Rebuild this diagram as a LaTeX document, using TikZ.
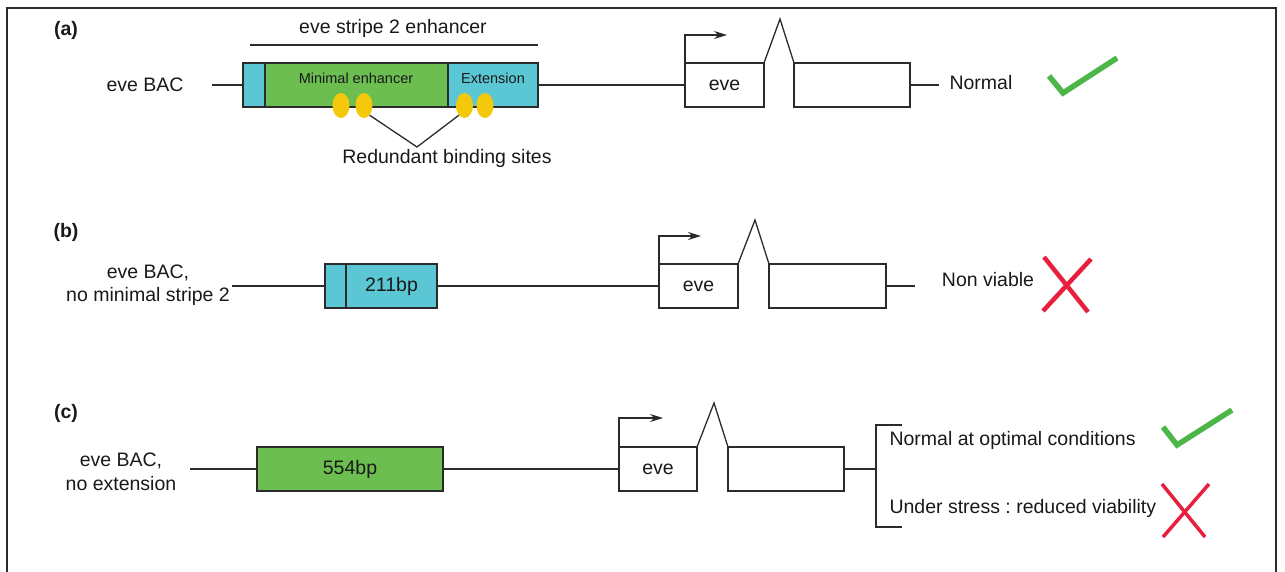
\documentclass[tikz,border=0pt]{standalone}
\usepackage{fontspec}
\setmainfont{Liberation Sans}
\usetikzlibrary{arrows.meta,shapes.geometric}
\frenchspacing

\definecolor{ink}{HTML}{2B2B2B}
\definecolor{cyanbox}{HTML}{5CC7D4}
\definecolor{greenbox}{HTML}{6CBE50}
\definecolor{siteyellow}{HTML}{F4C90C}
\definecolor{okgreen}{HTML}{4CB648}
\definecolor{badred}{HTML}{E8203E}

\tikzset{
  every node/.style={text=black!90, font=\fontsize{19.5}{23.5}\selectfont},
  wire/.style={draw=ink, line width=1.3pt},
  segment/.style={draw=ink, line width=1.4pt, minimum height=44pt, inner sep=0pt, outer sep=0pt},
  exon/.style={segment, fill=white},
  cyanseg/.style={segment, fill=cyanbox},
  greenseg/.style={segment, fill=greenbox},
  site/.style={ellipse, fill=siteyellow, minimum width=17pt, minimum height=25pt, inner sep=0pt},
  small/.style={font=\fontsize{14.5}{17}\selectfont},
  panel/.style={font=\fontsize{19.5}{23.5}\selectfont\bfseries},
  tss/.style={wire, -{Stealth[length=13pt, width=8pt]}},
  tick/.style={draw=okgreen, line width=5.5pt},
  cross/.style={draw=badred, line width=4.5pt}
}

\begin{document}
\begin{tikzpicture}[x=1pt, y=-1pt]
\useasboundingbox (0,0) rectangle (1285,572);

% outer frame
\draw[ink, line width=1.3pt] (7,572) -- (7,8) -- (1276,8) -- (1276,572);

% ---------------- (a) full construct ----------------
\node[panel] (la) at (66,30) {(a)};
\node (enhtitle) at (393,28) {eve stripe 2 enhancer};
\coordinate (bracketL) at (250,45);
\coordinate (bracketR) at (538,45);
\draw[wire] (bracketL) -- (bracketR);

\node (bacA) at (145,85) {eve BAC};
\coordinate (bacAend) at (212,85);
\node[cyanseg, minimum width=22pt] (a1) at (254,85) {};
\node[greenseg, minimum width=183pt] (a2) at (356.5,85) {};
\node[cyanseg, minimum width=90pt] (a3) at (493,85) {};
\node[small] (minlab) at (356,78) {Minimal enhancer};
\node[small] (extlab) at (493,78) {Extension};
\draw[wire] (bacAend) -- (a1.west);

\node[site] (o1) at (341,105.5) {};
\node[site] (o2) at (364,105.5) {};
\node[site] (o3) at (464.5,105.5) {};
\node[site] (o4) at (485,105.5) {};
\coordinate (vtip) at (417,147);
\draw[wire] (o2.-60) -- (vtip) -- (o3.-120);
\node (redund) at (447,158) {Redundant binding sites};

\node[exon, minimum width=79pt] (ea1) at (724.5,85) {eve};
\node[exon, minimum width=116pt] (ea2) at (852,85) {};
\draw[wire] (a3.east) -- (ea1.west);
\coordinate (pa) at (780,19);
\draw[wire] (ea1.north east) -- (pa) -- (ea2.north west);
\draw[tss] (ea1.north west) -- ++(0,-28) -- ++(42,0);
\coordinate (enda) at (939,85);
\draw[wire] (ea2.east) -- (enda);
\node[anchor=west] (resa) at (946,83) {Normal};
\draw[tick] (1049,76) -- (1063,93) -- (1117,58);

% ---------------- (b) no minimal stripe 2 ----------------
\node[panel] (lb) at (66,232) {(b)};
\node[align=center] (bacB) at (148,285) {eve BAC,\\no minimal stripe 2};
\coordinate (bacBend) at (232,286);
\node[cyanseg, minimum width=21pt] (b1) at (335.5,286) {};
\node[cyanseg, minimum width=91pt] (b2) at (391.5,286) {211bp};
\draw[wire] (bacBend) -- (b1.west);

\node[exon, minimum width=79pt] (eb1) at (698.5,286) {eve};
\node[exon, minimum width=117pt] (eb2) at (827.5,286) {};
\draw[wire] (b2.east) -- (eb1.west);
\coordinate (pb) at (755,220);
\draw[wire] (eb1.north east) -- (pb) -- (eb2.north west);
\draw[tss] (eb1.north west) -- ++(0,-28) -- ++(42,0);
\coordinate (endb) at (915,286);
\draw[wire] (eb2.east) -- (endb);
\node (resb) at (988,280) {Non viable};
\draw[cross] (1044,257) -- (1088,312);
\draw[cross] (1091,259) -- (1043,311);

% ---------------- (c) no extension ----------------
\node[panel] (lc) at (66,413) {(c)};
\node[align=center] (bacC) at (121,472) {eve BAC,\\no extension};
\coordinate (bacCend) at (190,469);
\node[greenseg, minimum width=186pt] (c1) at (350,469) {554bp};
\draw[wire] (bacCend) -- (c1.west);

\node[exon, minimum width=78pt] (ec1) at (658,469) {eve};
\node[exon, minimum width=116pt] (ec2) at (786,469) {};
\draw[wire] (c1.east) -- (ec1.west);
\coordinate (pc) at (714,403);
\draw[wire] (ec1.north east) -- (pc) -- (ec2.north west);
\draw[tss] (ec1.north west) -- ++(0,-29) -- ++(44,0);

\coordinate (brtop) at (876,425);
\coordinate (brbot) at (876,527);
\coordinate (brmid) at (876,469);
\draw[wire] (ec2.east) -- (brmid);
\draw[wire] (902,425) -- (brtop) -- (brbot) -- (902,527);
\node[anchor=west] (resc1) at (886,440) {Normal at optimal conditions};
\node[anchor=west] (resc2) at (886,508) {Under stress : reduced viability};
\draw[tick] (1163,427) -- (1177,445) -- (1232,410);
\draw[cross, line width=3.5pt] (1162,484) -- (1205,537);
\draw[cross, line width=3.5pt] (1209,484) -- (1163,537);

\end{tikzpicture}
\end{document}
